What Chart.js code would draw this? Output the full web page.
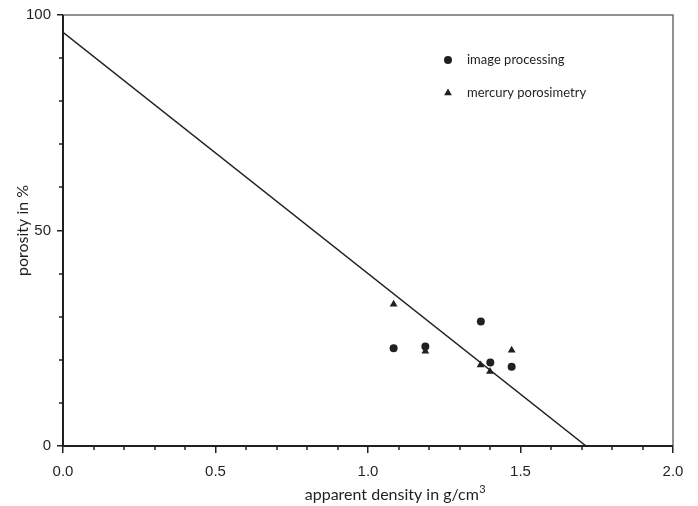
<!DOCTYPE html>
<html lang="en">
<head>
  <meta charset="UTF-8">
  <title>Porosity vs apparent density</title>
  <script src="https://cdn.jsdelivr.net/npm/chart.js"></script>
  <style>
    body { margin: 0; background: #fff; }
    #wrap { width: 698px; height: 506px; }
  </style>
</head>
<body>
  <div id="wrap"><canvas id="myChart" width="698" height="506"></canvas></div>

  <script>
    // values
    const imageX = [1.084, 1.188, 1.370, 1.401, 1.471];
    const imageY = [22.7, 23.1, 28.9, 19.4, 18.4];
    const mercuryX = [1.084, 1.188, 1.369, 1.400, 1.471];
    const mercuryY = [32.9, 22.0, 18.8, 17.3, 22.2];
    const fitX = [0, 1.715];
    const fitY = [96, 0];
    const xTicks = [0, 0.5, 1.0, 1.5, 2.0];
    const yTicks = [0, 50, 100];
    const seriesNames = ['image processing', 'mercury porosimetry'];

    const ink = '#231f20';
    const toPoints = (xs, ys) => xs.map((x, i) => ({ x: x, y: ys[i] }));

    // frame, minor ticks, legend and x title
    const extras = {
      id: 'extras',
      afterDraw(chart) {
        const ctx = chart.ctx;
        const a = chart.chartArea;
        const xs = chart.scales.x, ys = chart.scales.y;
        ctx.save();

        // top and right edges, thin grey
        ctx.strokeStyle = '#6d6d6d';
        ctx.lineWidth = 1.5;
        ctx.beginPath();
        ctx.moveTo(a.left, a.top);
        ctx.lineTo(a.right, a.top);
        ctx.lineTo(a.right, a.bottom);
        ctx.stroke();

        // left and bottom axes, black
        ctx.strokeStyle = ink;
        ctx.lineWidth = 2;
        ctx.beginPath();
        ctx.moveTo(a.left, a.top);
        ctx.lineTo(a.left, a.bottom);
        ctx.lineTo(a.right, a.bottom);
        ctx.stroke();

        // minor ticks
        ctx.lineWidth = 1.5;
        ctx.beginPath();
        for (let i = 1; i < 20; i++) {
          if (i % 5 === 0) continue;
          const px = Math.round(xs.getPixelForValue(i / 10));
          ctx.moveTo(px, a.bottom);
          ctx.lineTo(px, a.bottom + 4);
        }
        for (let i = 1; i < 10; i++) {
          if (i % 5 === 0) continue;
          const py = Math.round(ys.getPixelForValue(i * 10));
          ctx.moveTo(a.left, py);
          ctx.lineTo(a.left - 4, py);
        }
        ctx.stroke();

        // legend
        const styles = ['circle', 'triangle'];
        const rows = [60, 93];
        ctx.fillStyle = ink;
        ctx.font = '13px Lato';
        ctx.textBaseline = 'middle';
        ctx.textAlign = 'left';
        seriesNames.forEach((name, i) => {
          Chart.helpers.drawPoint(ctx, { pointStyle: styles[i], radius: i ? 4.5 : 4, rotation: 0, borderWidth: 0 }, 448, rows[i]);
          ctx.fillText(name, 467, rows[i]);
        });

        // x axis title with superscript
        const main = 'apparent density in g/cm';
        ctx.font = '16px Lato';
        const w1 = ctx.measureText(main).width;
        ctx.font = '11px Lato';
        const w2 = ctx.measureText('3').width;
        const x0 = 395 - (w1 + w2) / 2;
        ctx.font = '16px Lato';
        ctx.textBaseline = 'alphabetic';
        ctx.fillText(main, x0, 500);
        ctx.font = '11px Lato';
        ctx.fillText('3', x0 + w1 + 0.5, 493);

        ctx.restore();
      }
    };

    const ctx = document.getElementById('myChart').getContext('2d');
    const myChart = new Chart(ctx, {
      type: 'scatter',
      data: {
        datasets: [
          {
            label: 'fit',
            type: 'line',
            data: toPoints(fitX, fitY),
            borderColor: ink,
            borderWidth: 1.5,
            pointRadius: 0,
            fill: false,
            tension: 0
          },
          {
            label: seriesNames[0],
            data: toPoints(imageX, imageY),
            pointStyle: 'circle',
            pointRadius: 4,
            backgroundColor: ink,
            borderWidth: 0
          },
          {
            label: seriesNames[1],
            data: toPoints(mercuryX, mercuryY),
            pointStyle: 'triangle',
            pointRadius: 4.5,
            backgroundColor: ink,
            borderWidth: 0
          }
        ]
      },
      options: {
        responsive: false,
        animation: false,
        devicePixelRatio: 1,
        layout: { padding: { left: 0, top: 12, right: 25, bottom: 0 } },
        plugins: {
          legend: { display: false },
          tooltip: { enabled: false }
        },
        scales: {
          x: {
            type: 'linear',
            min: 0,
            max: 2,
            afterBuildTicks: (scale) => { scale.ticks = xTicks.map(v => ({ value: v })); },
            afterFit: (scale) => { scale.height = 60; },
            border: { display: false },
            grid: { drawOnChartArea: false, drawTicks: true, tickLength: 7, color: ink, lineWidth: 1.5 },
            ticks: {
              color: ink,
              font: { family: 'Liberation Sans', size: 15 },
              padding: 10,
              maxRotation: 0,
              callback: (v) => Number(v).toFixed(1)
            }
          },
          y: {
            min: 0,
            max: 100,
            afterBuildTicks: (scale) => { scale.ticks = yTicks.map(v => ({ value: v })); },
            afterFit: (scale) => { scale.width = 63; },
            border: { display: false },
            grid: { drawOnChartArea: false, drawTicks: true, tickLength: 6, color: ink, lineWidth: 1.5 },
            ticks: {
              color: ink,
              font: { family: 'Liberation Sans', size: 15 },
              padding: 6,
              callback: (v) => String(v)
            },
            title: {
              display: true,
              text: 'porosity in %',
              color: ink,
              font: { family: 'Lato', size: 16 },
              padding: { top: 13, bottom: 0 }
            }
          }
        }
      },
      plugins: [extras]
    });
  </script>
</body>
</html>
